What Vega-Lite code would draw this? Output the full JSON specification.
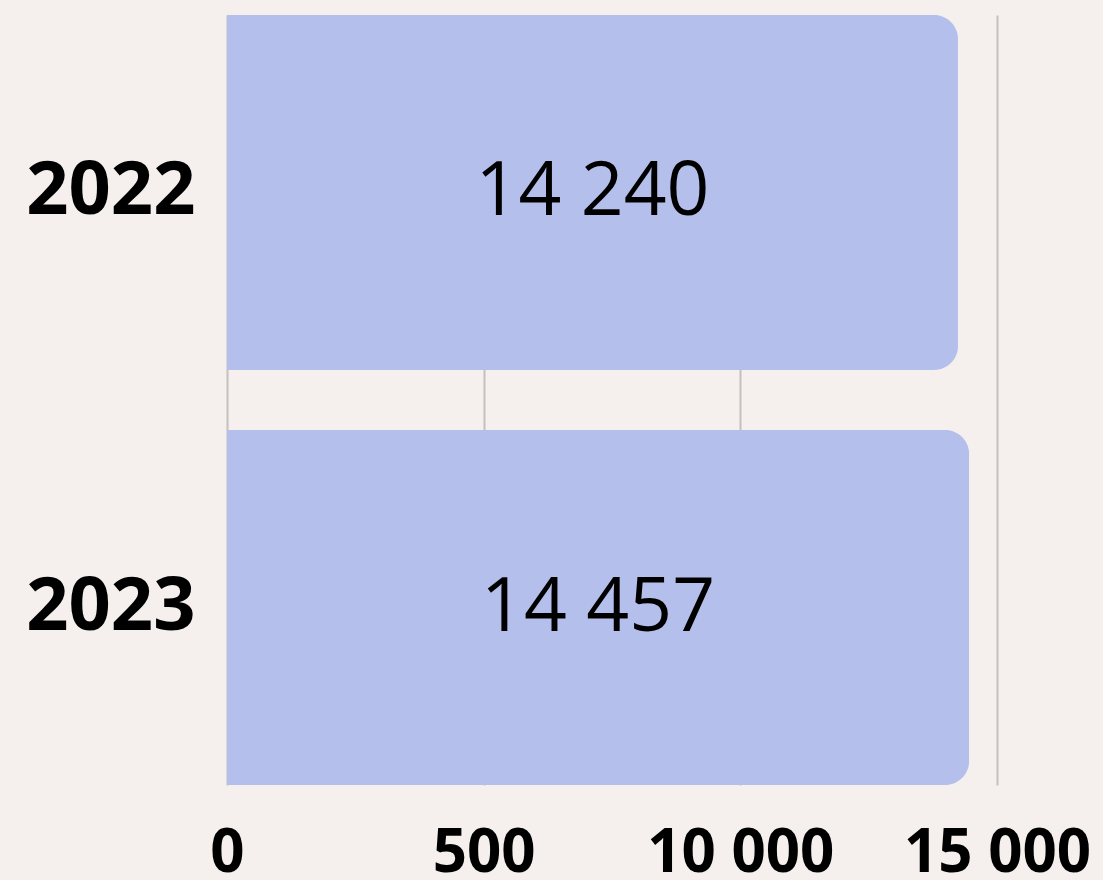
{
  "$schema": "https://vega.github.io/schema/vega-lite/v6.json",
  "autosize": "none",
  "width": 770,
  "height": 770,
  "padding": {"left": 227, "top": 15, "right": 106, "bottom": 95},
  "background": "#f5f0ed",
  "config": {
    "view": {"stroke": null},
    "font": "Open Sans",
    "locale": {"number": {"decimal": ",", "thousands": " ", "grouping": [3], "currency": ["", ""]}}
  },
  "data": {"values": [
    {"year": "2022", "value": 14240},
    {"year": "2023", "value": 14457}
  ]},
  "transform": [{"calculate": "datum.value / 2", "as": "mid"}],
  "encoding": {
    "y": {
      "field": "year", "type": "nominal", "sort": ["2022", "2023"],
      "scale": {"paddingInner": 0.145, "paddingOuter": 0},
      "axis": {"title": null, "ticks": false, "domain": false, "labelFontSize": 74, "labelFontWeight": "bold", "labelColor": "#000000", "labelPadding": 32, "labelFont": "Open Sans", "labelLimit": 0}
    }
  },
  "layer": [
    {
      "mark": {"type": "bar", "color": "#b4c0eb", "cornerRadiusEnd": 24},
      "encoding": {
        "x": {
          "field": "value", "type": "quantitative",
          "scale": {"domain": [0, 15000], "nice": false},
          "axis": {
            "title": null, "values": [0, 5000, 10000, 15000], "ticks": false, "domain": false,
            "grid": true, "gridColor": "#c4c0bd", "gridWidth": 2,
            "labelFontSize": 60, "labelFontWeight": "bold", "labelColor": "#000000", "labelPadding": 39,
            "labelFont": "Open Sans", "labelOverlap": false, "labelFlush": false, "labelLimit": 0,
            "labelExpr": "datum.value === 5000 ? '500' : format(datum.value, ',d')"
          }
        }
      }
    },
    {
      "mark": {"type": "text", "fontSize": 75, "color": "#000000", "font": "Open Sans", "baseline": "middle"},
      "encoding": {
        "x": {"field": "mid", "type": "quantitative"},
        "text": {"field": "value", "type": "quantitative", "format": ",d"}
      }
    }
  ]
}
